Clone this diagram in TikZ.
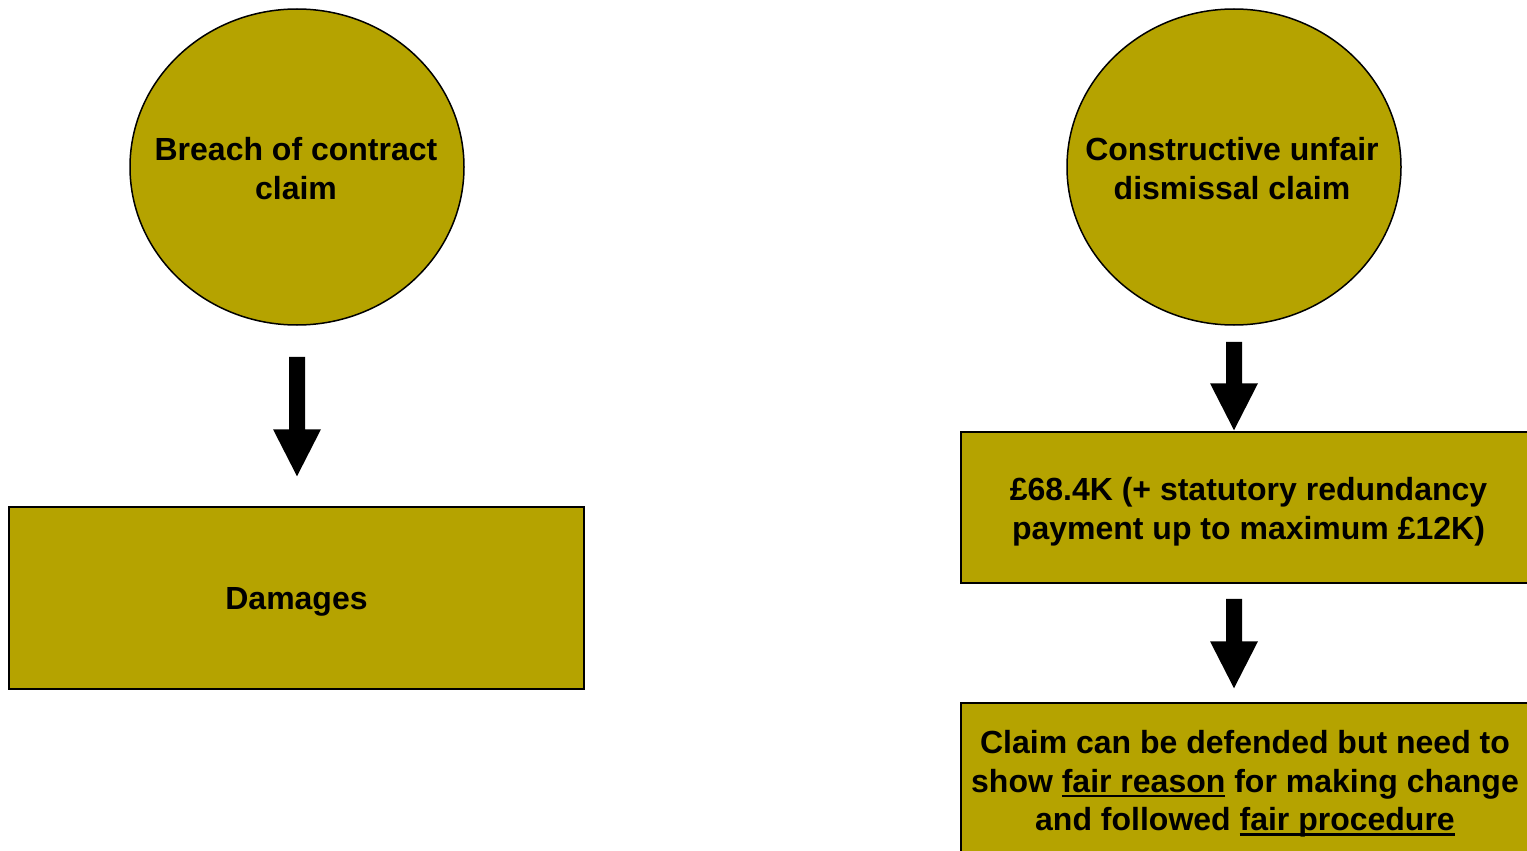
\documentclass[tikz,border=0pt]{standalone}
\usepackage{fontspec}
\setmainfont{Liberation Sans}
\usetikzlibrary{shapes.geometric,calc}
\definecolor{boxfill}{RGB}{181,163,0}
\newcommand\myul[1]{\setbox0\hbox{#1}\rlap{\rule[-5pt]{\wd0}{2.5pt}}\box0\relax}
\newcommand\blockarrow[2]{%
  \fill[black] let \p1=(#1), \p2=(#2) in
    (\x1-8pt,\y1) -- (\x1+8pt,\y1) -- (\x1+8pt,\y2+47pt) -- (\x1+24pt,\y2+47pt)
    -- (\x1,\y2) -- (\x1-24pt,\y2+47pt) -- (\x1-8pt,\y2+47pt) -- cycle;}
\begin{document}
\begin{tikzpicture}[x=1pt,y=-1pt,
  lbl/.style={font=\fontsize{32}{38.5}\bfseries\selectfont, align=center, text=black, inner sep=0pt},
  claimshape/.style={ellipse, draw=black, line width=1.5pt, fill=boxfill, inner sep=0pt,
    minimum width=334pt, minimum height=316pt},
  resultbox/.style={rectangle, draw=black, line width=1.5pt, fill=boxfill, inner sep=0pt,
    minimum width=575pt}]
\useasboundingbox (0,0) rectangle (1527,851);
\clip (0,0) rectangle (1527,851);
\fill[white] (0,0) rectangle (1527,851);

\node[claimshape] (c1) at (297,167) {};
\node[lbl] (c1t) at ($(c1.center)+(-1,1.5)$) {Breach of contract\\claim};
\node[claimshape] (c2) at (1234,167) {};
\node[lbl] (c2t) at ($(c2.center)+(-2,1.5)$) {Constructive unfair\\dismissal claim};

\node[resultbox, minimum height=182pt] (b1) at (296.5,598) {};
\node[lbl] (b1t) at ($(b1.center)+(0,4)$) {Damages};
\node[resultbox, minimum height=151pt] (b2) at (1248.5,507.5) {};
\node[lbl] (b2t) at ($(b2.center)+(0,4)$)
  {£68.4K (+ statutory redundancy\\payment up to maximum £12K)};
\node[resultbox, minimum height=156pt] (b3) at (1248.5,781) {};
\node[lbl] (b3t) at ($(b3.center)+(-3.5,3)$)
  {Claim can be defended but need to\\show \myul{fair reason} for making change\\and followed \myul{fair procedure}};

\coordinate (a1s) at ($(c1.south)+(0,31)$);
\coordinate (a1t) at ($(b1.north)+(0,-30)$);
\coordinate (a2s) at ($(c2.south)+(0,16)$);
\coordinate (a2t) at ($(b2.north)+(-14.5,-1)$);
\coordinate (a3s) at ($(b2.south)+(-14.5,15)$);
\coordinate (a3t) at ($(b3.north)+(-14.5,-14)$);
\blockarrow{a1s}{a1t}
\blockarrow{a2s}{a2t}
\blockarrow{a3s}{a3t}
\end{tikzpicture}
\end{document}
